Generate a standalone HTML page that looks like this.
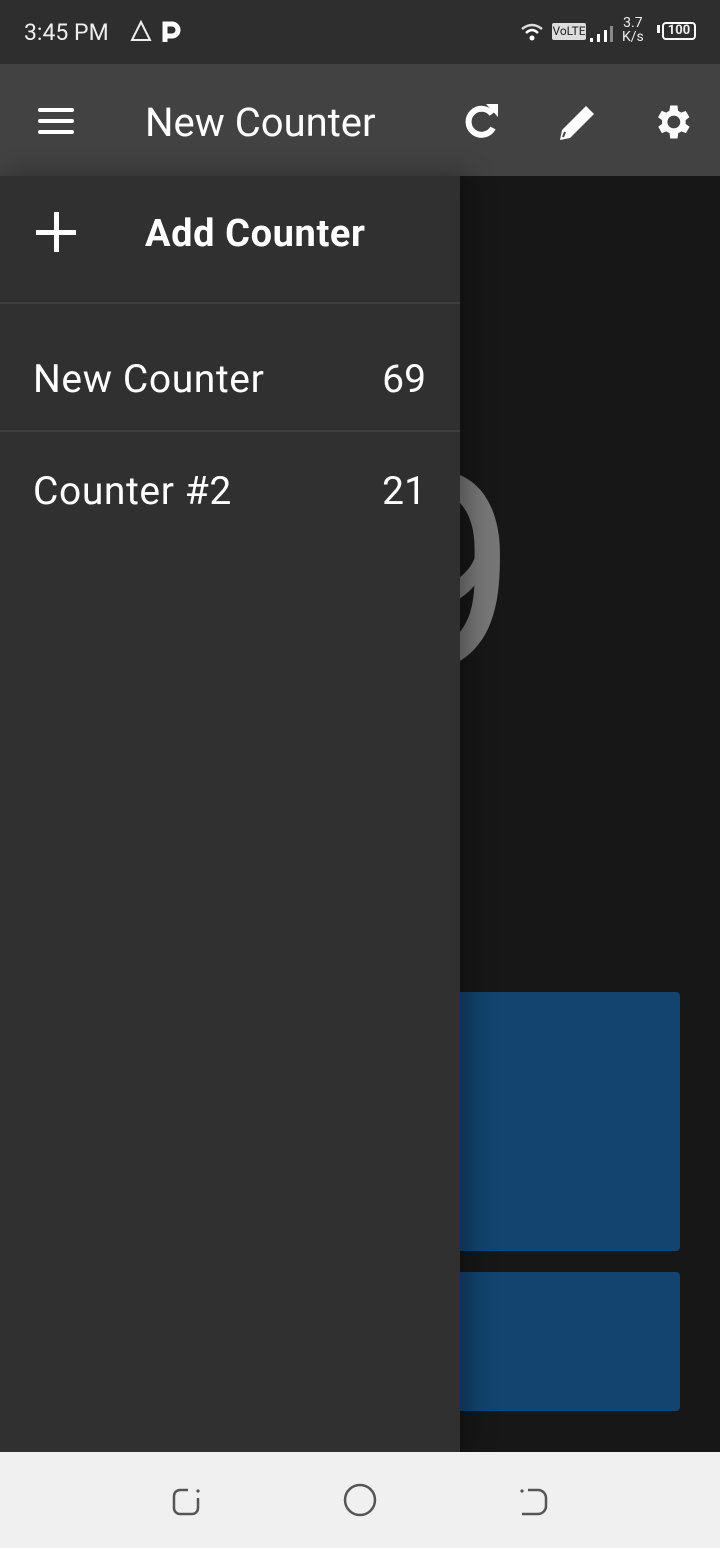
<!DOCTYPE html>
<html><head><meta charset="utf-8"><style>
*{margin:0;padding:0;box-sizing:border-box}
body{width:720px;height:1548px;position:relative;overflow:hidden;background:#171717;font-family:"Roboto","Liberation Sans",sans-serif;color:#fff}
.abs{position:absolute}
</style></head><body>
<div class="abs" style="left:0;top:0;width:720px;height:64px;background:#2e2e2e">
  <div class="abs" style="left:24px;top:19px;font-size:23px;color:#eee">3:45 PM</div>
  <svg class="abs" style="left:128px;top:20px" width="60" height="26"><path d="M13 2 L4 20 L22 20 Z" fill="none" stroke="#eee" stroke-width="2"/><path d="M37 22 V4 h7 a6 6 0 0 1 0 12 h-7" fill="none" stroke="#fff" stroke-width="5"/></svg>
  <div class="abs" style="left:520px;top:16px;width:180px;height:32px;font-size:12px;color:#eee">
    <svg class="abs" style="left:0;top:6px" width="24" height="20"><path d="M2 7 Q12 -1 22 7" stroke="#ddd" stroke-width="2.5" fill="none"/><path d="M6 11 Q12 5 18 11" stroke="#fff" stroke-width="2.5" fill="none"/><circle cx="12" cy="16" r="2.5" fill="#fff"/></svg>
    <div class="abs" style="left:32px;top:7px;width:34px;height:17px;background:#ddd;color:#222;font-size:12px;line-height:17px;text-align:center;border-radius:2px">VoLTE</div>
    <svg class="abs" style="left:68px;top:8px" width="26" height="18"><rect x="2" y="14" width="3" height="4" fill="#fff"/><rect x="9" y="10" width="3" height="8" fill="#fff"/><rect x="16" y="6" width="3" height="12" fill="#fff"/><rect x="22" y="2" width="3" height="16" fill="#888"/></svg>
    <div class="abs" style="left:102px;top:0px;font-size:14px;line-height:14px;text-align:center">3.7<br>K/s</div>
    <div class="abs" style="left:137px;top:9px;width:3px;height:8px;background:#fff"></div>
    <div class="abs" style="left:142px;top:6px;width:34px;height:18px;border:2px solid #fff;border-radius:4px;font-size:13px;font-weight:bold;line-height:14px;text-align:center">100</div>
  </div>
</div>
<div class="abs" style="left:0;top:64px;width:720px;height:112px;background:#424242">
  <div class="abs" style="left:38px;top:44px;width:36px;height:26px">
    <div style="height:4px;background:#fff;border-radius:2px;margin-bottom:7px"></div><div style="height:4px;background:#fff;border-radius:2px;margin-bottom:7px"></div><div style="height:4px;background:#fff;border-radius:2px"></div></div>
  <div class="abs" style="left:145px;top:35px;font-size:40px">New Counter</div>
  <svg class="abs" style="left:460px;top:36px" width="42" height="42"><path d="M32 14 A13 13 0 1 0 33 28" stroke="#fff" stroke-width="6" fill="none"/><path d="M26 4 L38 4 L38 17 Z" fill="#fff"/></svg>
  <svg class="abs" style="left:554px;top:36px" width="44" height="44"><path d="M6 40 L8 30 L32 6 L40 14 L16 38 Z" fill="#fff"/><path d="M9 37 L11 32" stroke="#424242" stroke-width="2"/></svg>
  <svg class="abs" style="left:650px;top:36px" width="44" height="44" viewBox="0 0 24 24"><path fill="#fff" d="M19.4 13a7.5 7.5 0 0 0 0-2l2.1-1.6-2-3.5-2.5 1a7 7 0 0 0-1.7-1L15 3h-4l-.4 2.9a7 7 0 0 0-1.7 1l-2.5-1-2 3.5L6.6 11a7.5 7.5 0 0 0 0 2l-2.1 1.6 2 3.5 2.5-1a7 7 0 0 0 1.7 1L11 21h4l.4-2.9a7 7 0 0 0 1.7-1l2.5 1 2-3.5zM13 15.5a3.5 3.5 0 1 1 0-7 3.5 3.5 0 0 1 0 7z"/></svg>
</div>
<div class="abs" style="left:160px;top:428px;width:400px;text-align:center;font-size:282px;color:#777;line-height:300px">69</div>
<div class="abs" style="left:40px;top:992px;width:640px;height:259px;background:#12446f;border-radius:4px"></div>
<div class="abs" style="left:40px;top:1272px;width:640px;height:139px;background:#12446f;border-radius:4px"></div>
<div class="abs" style="left:0;top:176px;width:460px;height:1276px;background:#303030;box-shadow:8px 0 24px rgba(0,0,0,0.35)">
  <div class="abs" style="left:0;top:0;width:460px;height:128px;border-bottom:2px solid #3c3c3c">
    <div class="abs" style="left:36px;top:54px;width:40px;height:5px;background:#fff"></div>
    <div class="abs" style="left:53.5px;top:36px;width:5px;height:40px;background:#fff"></div>
    <div class="abs" style="left:145px;top:36px;font-size:38px;font-weight:bold;letter-spacing:0.6px">Add Counter</div>
  </div>
  <div class="abs" style="left:0;top:128px;width:460px;height:128px;border-bottom:2px solid #3c3c3c">
    <div class="abs" style="left:33px;top:52px;font-size:39px;letter-spacing:0.6px">New Counter</div>
    <div class="abs" style="right:34px;top:52px;font-size:39px">69</div>
  </div>
  <div class="abs" style="left:0;top:256px;width:460px;height:112px">
    <div class="abs" style="left:33px;top:36px;font-size:39px;letter-spacing:0.6px">Counter #2</div>
    <div class="abs" style="right:34px;top:36px;font-size:39px">21</div>
  </div>
</div>
<div class="abs" style="left:0;top:1452px;width:720px;height:96px;background:#f0f0f0">
  <svg class="abs" style="left:170px;top:32px" width="34" height="34"><path d="M28 14 V24 a6 6 0 0 1 -6 6 H10 a6 6 0 0 1 -6 -6 V12 a6 6 0 0 1 6 -6 H18" stroke="#555" stroke-width="2.5" fill="none"/><circle cx="28" cy="7" r="1.6" fill="#555"/></svg>
  <svg class="abs" style="left:342px;top:30px" width="36" height="36"><circle cx="18" cy="18" r="15" stroke="#555" stroke-width="2.5" fill="none"/></svg>
  <svg class="abs" style="left:516px;top:32px" width="34" height="34"><path d="M12 6 H22 a8 8 0 0 1 8 8 V22 a8 8 0 0 1 -8 8 H6" stroke="#555" stroke-width="2.5" fill="none"/><circle cx="6" cy="7" r="1.6" fill="#555"/></svg>
</div>
</body></html>
